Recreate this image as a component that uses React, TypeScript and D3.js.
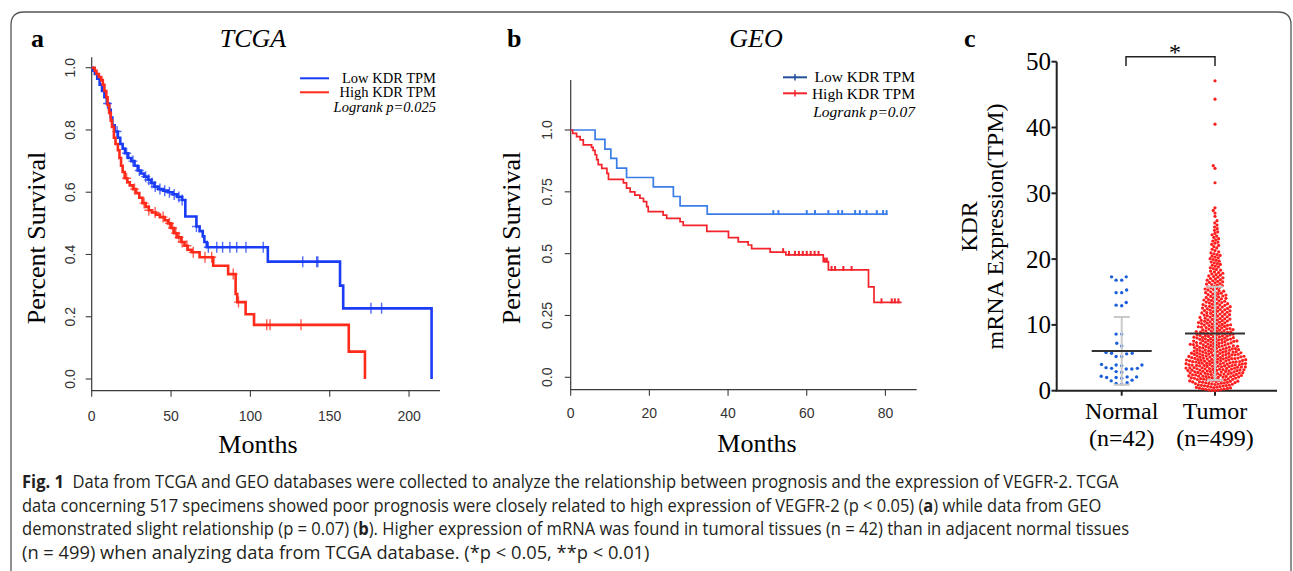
import * as d3 from "d3";
import { useLayoutEffect, useRef } from "react";

const serif = "'Liberation Serif', 'Times New Roman', serif";
const sans = "'Liberation Sans', Arial, Helvetica, sans-serif";
const captionFont = "'Liberation Sans Narrow', 'Open Sans', 'Noto Sans', sans-serif";

// ---------- panel a: TCGA Kaplan-Meier (time in months, survival after the drop) ----------
const tcgaLowSteps: [number, number][] = [
  [0.8, 0.99], [2, 0.98], [3.5, 0.965], [5, 0.945], [6.5, 0.925], [8, 0.905], [9.5, 0.885],
  [11, 0.865], [12, 0.84], [13, 0.815], [14.5, 0.795], [16.5, 0.775], [18, 0.755], [19.5, 0.74],
  [21, 0.725], [23, 0.71], [25, 0.7], [27, 0.685], [29, 0.67], [31, 0.66], [33, 0.65],
  [35.5, 0.64], [37.5, 0.63], [39.5, 0.618], [42, 0.61], [45, 0.605], [48, 0.6], [51, 0.593],
  [54, 0.585], [57, 0.575], [59, 0.522], [66, 0.49], [68, 0.475], [70, 0.458], [71, 0.44],
  [72.5, 0.423], [111, 0.377], [156.5, 0.3], [158.5, 0.227], [214.2, 0],
];
const tcgaLowCensor = [
  10, 16, 22, 26, 30, 34, 36, 38, 40, 43, 46, 49, 52, 55, 57, 66, 73.5, 78.8, 82.5, 87.1,
  91.4, 97.2, 108.1, 133, 141.8, 142.5, 176, 182.7,
];
const tcgaHighSteps: [number, number][] = [
  [1.9, 0.99], [3, 0.98], [4.5, 0.97], [6, 0.96], [7, 0.945], [8, 0.925], [9.2, 0.905], [10, 0.88],
  [11, 0.855], [12, 0.83], [12.8, 0.81], [14, 0.775], [15, 0.755], [16.5, 0.735], [17.5, 0.71],
  [18.5, 0.685], [19.5, 0.665], [20.8, 0.645], [22.5, 0.632], [24, 0.622], [26, 0.61], [28, 0.597],
  [30, 0.582], [32, 0.565], [34, 0.553], [36, 0.542], [38, 0.535], [40.5, 0.528], [43, 0.52],
  [46, 0.51], [48, 0.5], [50, 0.485], [52, 0.468], [54, 0.455], [56.5, 0.44], [58.5, 0.428],
  [60.5, 0.415], [63, 0.407], [68, 0.391], [76.6, 0.364], [86, 0.337], [90.7, 0.273], [91.7, 0.247],
  [97, 0.208], [102.3, 0.174], [162, 0.088], [172.2, 0],
];
const tcgaHighCensor = [
  22, 27, 33, 36, 40, 45, 49, 51, 53, 55, 57, 60, 64, 71.4, 75.6, 89.2, 92.5, 110.3, 112.4, 131.9,
];
const tcgaXTicks = [0, 50, 100, 150, 200];
const tcgaYTicks = [0, 0.2, 0.4, 0.6, 0.8, 1.0];

// ---------- panel b: GEO Kaplan-Meier ----------
const geoLowSteps: [number, number][] = [
  [6.2, 0.962], [8.7, 0.923], [10.2, 0.885], [11.7, 0.846], [14.2, 0.808], [21, 0.77],
  [26.1, 0.731], [27.8, 0.693], [34.7, 0.66],
];
const geoLowEnd = 80.5;
const geoLowCensor = [51.5, 52.8, 60, 62.1, 65.5, 68, 69, 72.3, 73.5, 75.2, 77.8, 79.4, 80.3];
const geoHighSteps: [number, number][] = [
  [0.5, 0.986], [1.5, 0.973], [2.4, 0.96], [3.2, 0.94], [5.3, 0.93], [5.7, 0.918], [6.2, 0.9],
  [6.6, 0.88], [7.0, 0.86], [7.9, 0.845], [9.2, 0.825], [9.6, 0.8], [13.4, 0.786], [14.2, 0.765],
  [15.1, 0.75], [16.3, 0.737], [17.6, 0.724], [18.5, 0.71], [19.3, 0.69], [19.7, 0.67],
  [23.5, 0.656], [24.4, 0.643], [27.8, 0.629], [28.6, 0.614], [34.6, 0.59], [40.1, 0.565],
  [42.6, 0.548], [45.1, 0.535], [46, 0.52], [50.7, 0.506], [54.7, 0.495], [64.2, 0.468],
  [65.5, 0.434], [75.7, 0.366], [77.1, 0.303],
];
const geoHighEnd = 84.1;
const geoHighCensor = [
  54, 55.5, 57, 58, 59, 60, 61, 62, 63, 64.6, 65.1, 66.3, 67.2, 69.3, 71.4, 79, 81.6, 82.4, 83.3,
];
const geoXTicks = [0, 20, 40, 60, 80];
const geoYTicks = [0, 0.25, 0.5, 0.75, 1.0];
const geoYLabels = ["0.0", "0.25", "0.5", "0.75", "1.0"];

// ---------- panel c: KDR expression ----------
const groups = ["Normal", "Tumor"];
const groupN = ["(n=42)", "(n=499)"];
const normalValues = [
  17.3, 17.3, 16.8, 16.8, 15.3, 14.9, 14.9, 13.4, 13.0, 12.9, 8.6, 8.6, 7.2, 6.8, 5.8, 5.7, 5.7,
  5.6, 5.2, 5.2, 4.0, 3.9, 3.9, 3.8, 3.5, 3.4, 3.4, 3.3, 3.3, 2.9, 2.8, 2.2, 2.1, 2.1, 2.0, 2.0,
  1.9, 1.6, 1.5, 1.2, 1.1, 1.0,
];
// tumor: number of points read in each 1-TPM band (0-1, 1-2, ... 25-26), plus the sparse top points
const tumorBandCounts = [
  25, 32, 37, 40, 40, 36, 31, 29, 26, 23, 21, 19, 19, 16, 14, 12, 12, 10, 8, 8, 8, 5, 6, 5, 4, 3,
];
const tumorHigh = [26.5, 27.0, 27.4, 27.8, 31.6, 33.8, 34.2, 40.5, 44.3, 47.1];
const meanLines = [6.05, 8.7];
const sdValues = [5.15, 7.1];
const exprTicks = [0, 10, 20, 30, 40, 50];

const captionLines = [
  { parts: [["Fig. 1", true], ["  Data from TCGA and GEO databases were collected to analyze the relationship between prognosis and the expression of VEGFR-2. TCGA", false]], w: 1098 },
  { parts: [["data concerning 517 specimens showed poor prognosis were closely related to high expression of VEGFR-2 (p < 0.05) (", false], ["a", true], [") while data from GEO", false]], w: 1080 },
  { parts: [["demonstrated slight relationship (p = 0.07) (", false], ["b", true], ["). Higher expression of mRNA was found in tumoral tissues (n = 42) than in adjacent normal tissues", false]], w: 1108 },
  { parts: [["(n = 499) when analyzing data from TCGA database. (*p < 0.05, **p < 0.01)", false]], w: 628 },
] as { parts: [string, boolean][]; w: number }[];

function survAt(steps: [number, number][], t: number) {
  let s = 1;
  for (const [st, v] of steps) if (st <= t) s = v;
  return s;
}

function kmPath(steps: [number, number][], end: number, x: (v: number) => number, y: (v: number) => number) {
  let d = `M${x(0)},${y(1)}`;
  for (const [t, v] of steps) d += `H${x(t)}V${y(v)}`;
  const last = steps[steps.length - 1][0];
  if (end > last) d += `H${x(end)}`;
  return d;
}

function swarm(values: number[], y: (v: number) => number, d: number) {
  const pts = values.map((v) => ({ y: y(v), x: 0 })).sort((a, b) => b.y - a.y);
  const placed: { x: number; y: number }[] = [];
  for (const p of pts) {
    const near = placed.filter((q) => Math.abs(q.y - p.y) < d);
    const blocks = near.map((q) => {
      const w = Math.sqrt(d * d - (q.y - p.y) ** 2);
      return [q.x - w, q.x + w];
    });
    const cands = [0];
    blocks.forEach(([a, b]) => cands.push(a, b));
    cands.sort((a, b) => Math.abs(a) - Math.abs(b));
    for (const c of cands) {
      if (blocks.every(([a, b]) => c <= a + 1e-6 || c >= b - 1e-6)) {
        p.x = c;
        break;
      }
    }
    placed.push(p);
  }
  return placed;
}

type KMProps = {
  xs: d3.ScaleLinear<number, number>;
  ys: d3.ScaleLinear<number, number>;
  top: number;
  bottom: number;
  xTicks: number[];
  yTicks: number[];
  yLabels: string[];
  yLabelX: number;
  xLabelY: number;
};

function KMAxes({ xs, ys, top, bottom, xTicks, yTicks, yLabels, yLabelX, xLabelY }: KMProps) {
  const [x0, x1] = xs.range();
  const ax = "#3a3a3a";
  return (
    <g>
      <path d={`M${x0},${top}V${bottom}H${x1}`} fill="none" stroke={ax} strokeWidth={1.2} />
      {yTicks.map((t, i) => (
        <g key={"y" + i}>
          <line x1={x0 - 6} x2={x0} y1={ys(t)} y2={ys(t)} stroke={ax} strokeWidth={1.1} />
          <text transform={`translate(${yLabelX},${ys(t)}) rotate(-90)`} textAnchor="middle"
            fontFamily={sans} fontSize={14} fill="#333">{yLabels[i]}</text>
        </g>
      ))}
      {xTicks.map((t) => (
        <g key={"x" + t}>
          <line x1={xs(t)} x2={xs(t)} y1={bottom} y2={bottom + 6} stroke={ax} strokeWidth={1.1} />
          <text x={xs(t)} y={xLabelY} textAnchor="middle" fontFamily={sans} fontSize={14} fill="#333">{t}</text>
        </g>
      ))}
    </g>
  );
}

// caption line squeezed horizontally to the width it has in the figure
function CaptionLine({ parts, w, y }: { parts: [string, boolean][]; w: number; y: number }) {
  const ref = useRef<SVGTextElement>(null);
  useLayoutEffect(() => {
    const el = ref.current;
    if (!el) return;
    const len = el.getComputedTextLength();
    const sx = len > 0 ? w / len : 1;
    d3.select(el).attr("transform", `translate(22,${y}) scale(${sx},1)`);
  }, [w, y]);
  return (
    <text ref={ref} transform={`translate(22,${y})`} fontFamily={captionFont} fontSize={17.5} fill="#231f20"
      style={{ whiteSpace: "pre" }}>
      {parts.map(([s, b], j) => (
        <tspan key={j} fontWeight={b ? "bold" : "normal"}>{s}</tspan>
      ))}
    </text>
  );
}

export default function App() {
  // panel a scales
  const xa = d3.scaleLinear().domain([0, 219.5]).range([91.7, 440]);
  const ya = d3.scaleLinear().domain([0, 1]).range([379, 67.7]);
  // panel b scales
  const xb = d3.scaleLinear().domain([0, 87.95]).range([570.7, 916.7]);
  const yb = d3.scaleLinear().domain([0, 1]).range([377.3, 130]);
  // panel c scales
  const xc = d3.scalePoint<string>().domain(groups).range([1121.7, 1215]);
  const yc = d3.scaleLinear().domain([0, 50]).range([390.7, 61.7]);

  const tumorValues: number[] = [];
  tumorBandCounts.forEach((n, b) => {
    // spread the points evenly inside their band (layout only)
    for (let i = 0; i < n; i++) tumorValues.push(b + (i + 0.5) / n);
  });
  tumorHigh.forEach((v) => tumorValues.push(v));

  const normalPts = swarm(normalValues, yc, 5.6);
  const tumorPts = swarm(tumorValues, yc, 3.15);

  const aBlue = "#1a3cf5";
  const aRed = "#ff2a1a";
  const bBlue = "#3a7de8";
  const bRed = "#f4232b";

  const tcgaCurves = [
    { steps: tcgaLowSteps, censor: tcgaLowCensor, color: aBlue },
    { steps: tcgaHighSteps, censor: tcgaHighCensor, color: aRed },
  ];
  const geoCurves = [
    { steps: geoLowSteps, censor: geoLowCensor, end: geoLowEnd, color: bBlue },
    { steps: geoHighSteps, censor: geoHighCensor, end: geoHighEnd, color: bRed },
  ];

  return (
    <svg width={1293} height={571} viewBox="0 0 1293 571"
      style={{ position: "absolute", left: 0, top: 0, background: "#fff" }}>
      <rect width={1293} height={571} fill="#fff" />
      {/* frame */}
      <path d="M11,580V25Q11,12 24,12H1278Q1291,12 1291,25V580" fill="none" stroke="#555" strokeWidth={1.3} />

      {/* ---------- panel a ---------- */}
      <text x={31} y={47} fontFamily={serif} fontWeight="bold" fontSize={26}>a</text>
      <text x={253} y={47} textAnchor="middle" fontFamily={serif} fontStyle="italic" fontSize={26}>TCGA</text>
      <KMAxes xs={xa} ys={ya} top={57.3} bottom={390.7} xTicks={tcgaXTicks} yTicks={tcgaYTicks}
        yLabels={tcgaYTicks.map((t) => t.toFixed(1))} yLabelX={75} xLabelY={420.5} />
      {tcgaCurves.map((c, i) => (
        <g key={i}>
          <path d={kmPath(c.steps, 0, xa, ya)} fill="none" stroke={c.color} strokeWidth={2.6} />
          {c.censor.map((t, j) => {
            const cx = xa(t), cy = ya(survAt(c.steps, t));
            return (
              <path key={j} d={`M${cx},${cy - 5.5}V${cy + 5.5}M${cx - 4.5},${cy}H${cx + 4.5}`}
                stroke={c.color} strokeWidth={1.4} opacity={0.75} />
            );
          })}
        </g>
      ))}
      <line x1={300} x2={329} y1={78.3} y2={78.3} stroke={aBlue} strokeWidth={2} />
      <line x1={300} x2={329} y1={92.3} y2={92.3} stroke={aRed} strokeWidth={2} />
      <text x={436} y={82.5} textAnchor="end" fontFamily={serif} fontSize={14.5}>Low KDR TPM</text>
      <text x={436} y={97} textAnchor="end" fontFamily={serif} fontSize={14.5}>High KDR TPM</text>
      <text x={436} y={111.5} textAnchor="end" fontFamily={serif} fontStyle="italic" fontSize={14.5}>Logrank p=0.025</text>
      <text transform="translate(45,238) rotate(-90)" textAnchor="middle" fontFamily={serif} fontSize={26}>Percent Survival</text>
      <text x={258} y={453} textAnchor="middle" fontFamily={serif} fontSize={26}>Months</text>

      {/* ---------- panel b ---------- */}
      <text x={507} y={47} fontFamily={serif} fontWeight="bold" fontSize={26}>b</text>
      <text x={756} y={47} textAnchor="middle" fontFamily={serif} fontStyle="italic" fontSize={26}>GEO</text>
      <KMAxes xs={xb} ys={yb} top={80} bottom={389.7} xTicks={geoXTicks} yTicks={geoYTicks}
        yLabels={geoYLabels} yLabelX={551.7} xLabelY={418} />
      {geoCurves.map((c, i) => (
        <g key={i}>
          <path d={kmPath(c.steps, c.end, xb, yb)} fill="none" stroke={c.color} strokeWidth={1.7} />
          {c.censor.map((t, j) => {
            const cx = xb(t), cy = yb(survAt(c.steps, t));
            return <line key={j} x1={cx} x2={cx} y1={cy - 4} y2={cy + 1} stroke={c.color} strokeWidth={2} />;
          })}
        </g>
      ))}
      <line x1={783} x2={807} y1={77.3} y2={77.3} stroke="#24519e" strokeWidth={2} />
      <line x1={795} x2={795} y1={74} y2={80.6} stroke="#24519e" strokeWidth={1.5} />
      <line x1={783} x2={807} y1={93.3} y2={93.3} stroke={bRed} strokeWidth={2} />
      <line x1={795} x2={795} y1={90} y2={96.6} stroke={bRed} strokeWidth={1.5} />
      <text x={915} y={82} textAnchor="end" fontFamily={serif} fontSize={15.5}>Low KDR TPM</text>
      <text x={915} y={98.5} textAnchor="end" fontFamily={serif} fontSize={15.5}>High KDR TPM</text>
      <text x={915} y={117} textAnchor="end" fontFamily={serif} fontStyle="italic" fontSize={15.5}>Logrank p=0.07</text>
      <text transform="translate(520,238) rotate(-90)" textAnchor="middle" fontFamily={serif} fontSize={26}>Percent Survival</text>
      <text x={757} y={452} textAnchor="middle" fontFamily={serif} fontSize={26}>Months</text>

      {/* ---------- panel c ---------- */}
      <text x={964} y={47} fontFamily={serif} fontWeight="bold" fontSize={26}>c</text>
      <text transform="translate(977,226.5) rotate(-90)" textAnchor="middle" fontFamily={serif} fontSize={24}>KDR</text>
      <text transform="translate(1003,226.5) rotate(-90)" textAnchor="middle" fontFamily={serif} fontSize={24}>mRNA Expression(TPM)</text>
      <path d={`M1056.7,${yc(50)}V${yc(0)}H1277`} fill="none" stroke="#222" strokeWidth={2} />
      {exprTicks.map((t) => (
        <g key={t}>
          <line x1={1051.5} x2={1056.7} y1={yc(t)} y2={yc(t)} stroke="#222" strokeWidth={2} />
          <text x={1051} y={yc(t) + 8.5} textAnchor="end" fontFamily={serif} fontSize={25}>{t}</text>
        </g>
      ))}
      {groups.map((g, i) => (
        <g key={g}>
          <line x1={xc(g)!} x2={xc(g)!} y1={yc(0)} y2={yc(0) + 5} stroke="#222" strokeWidth={2} />
          <text x={xc(g)!} y={419} textAnchor="middle" fontFamily={serif} fontSize={24}>{g}</text>
          <text x={xc(g)!} y={446} textAnchor="middle" fontFamily={serif} fontSize={24}>{groupN[i]}</text>
        </g>
      ))}
      {normalPts.map((p, i) => (
        <circle key={"n" + i} cx={xc("Normal")! + p.x} cy={p.y} r={1.7} fill="#1b5fd8" />
      ))}
      {tumorPts.map((p, i) => (
        <circle key={"t" + i} cx={xc("Tumor")! + p.x} cy={p.y} r={1.6} fill="#ff1d1d" />
      ))}
      {groups.map((g, i) => {
        const cx = xc(g)!;
        const m = meanLines[i], s = sdValues[i];
        return (
          <g key={"s" + g}>
            <path d={`M${cx},${yc(m - s)}V${yc(m + s)}M${cx - 8},${yc(m + s)}H${cx + 8}M${cx - 8},${yc(m - s)}H${cx + 8}`}
              stroke="#c9c9c9" strokeWidth={2} fill="none" />
            <line x1={cx - 30} x2={cx + 30} y1={yc(m)} y2={yc(m)} stroke="#333" strokeWidth={2} />
          </g>
        );
      })}
      <path d="M1126,66V56.7H1215V66" fill="none" stroke="#222" strokeWidth={1.5} />
      <text x={1175} y={59.5} textAnchor="middle" fontFamily={serif} fontSize={24}>*</text>

      {/* ---------- caption ---------- */}
      {captionLines.map((ln, i) => (
        <CaptionLine key={i} parts={ln.parts} w={ln.w} y={488 + i * 23.5} />
      ))}
    </svg>
  );
}
